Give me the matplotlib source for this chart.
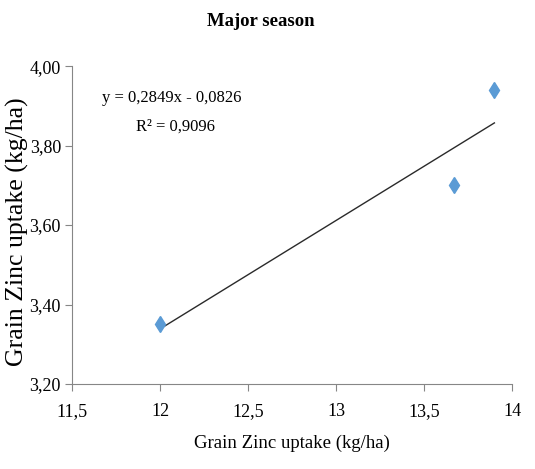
import matplotlib
matplotlib.use("Agg")
import matplotlib.pyplot as plt
import numpy as np
from matplotlib.ticker import FuncFormatter

x_vals = [12.0, 13.67, 13.90]
y_vals = [3.35, 3.70, 3.94]
x_ticks = [11.5, 12, 12.5, 13, 13.5, 14]
y_ticks = [3.20, 3.40, 3.60, 3.80, 4.00]
eq_text = "y = 0,2849x - 0,0826"
r2_text = "R² = 0,9096"

plt.rcParams['font.family'] = ['Liberation Serif', 'DejaVu Serif']

fig = plt.figure(figsize=(5.35, 4.69), dpi=100)
ax = fig.add_axes([0.1346, 0.1812, 0.8224, 0.6778])

ax.plot(x_vals, y_vals, linestyle='none', marker='d', markersize=8,
        color='#5B9BD5', zorder=3)

coef = np.polyfit(x_vals, y_vals, 1)
xl = np.array([min(x_vals), max(x_vals)])
ax.plot(xl, np.polyval(coef, xl), color='#2a2a2a', linewidth=1.0, zorder=2)

ax.set_xlim(11.5, 14)
ax.set_ylim(3.2, 4.0)
ax.set_xticks(x_ticks)
ax.set_yticks(y_ticks)
ax.xaxis.set_major_formatter(FuncFormatter(lambda v, p: ('%g' % v).replace('.', ',')))
ax.yaxis.set_major_formatter(FuncFormatter(lambda v, p: ('%.2f' % v).replace('.', ',')))

for s in ['top', 'right']:
    ax.spines[s].set_visible(False)
for s in ['left', 'bottom']:
    ax.spines[s].set_color('#868686')
    ax.spines[s].set_linewidth(0.8)
ax.tick_params(axis='both', direction='out', length=5, width=0.8, color='#868686',
               labelsize=13, labelcolor='black')
ax.tick_params(axis='x', pad=9)
ax.tick_params(axis='y', pad=3)

ax.text(0.227, 0.90, eq_text, transform=ax.transAxes, ha='center', va='center', fontsize=12)
ax.text(0.236, 0.811, r2_text, transform=ax.transAxes, ha='center', va='center', fontsize=12)

fig.text(0.487, 0.955, "Major season", ha='center', va='center', fontsize=13.5, fontweight='bold')
ax.set_xlabel("Grain Zinc uptake (kg/ha)", fontsize=13.5, labelpad=10)
ax.set_ylabel("Grain Zinc uptake (kg/ha)", fontsize=18.5)
ax.yaxis.set_label_coords(-0.097, 0.478)

fig.savefig("out.png", dpi=100)
